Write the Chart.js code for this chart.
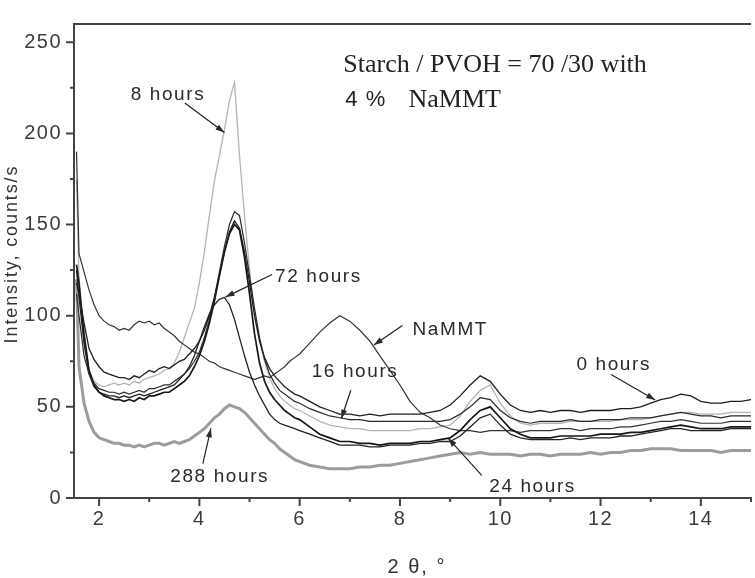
<!doctype html>
<html lang="en">
<head>
<meta charset="utf-8">
<title>Starch / PVOH = 70/30 with 4 % NaMMT</title>
<style>
  * { margin: 0; padding: 0; }
  html, body { width: 755px; height: 578px; overflow: hidden; background: #fff; }
</style>
</head>
<body>
<canvas id="myChart" width="760" height="578"></canvas>
<script src="https://cdn.jsdelivr.net/npm/chart.js"></script>
<script>
// 2 theta grid, degrees
const twoTheta = [1.55, 1.6, 1.7, 1.8, 1.9, 2.0,
  2.1, 2.2, 2.3, 2.4, 2.5, 2.6, 2.7, 2.8, 2.9, 3.0,
  3.1, 3.2, 3.3, 3.4, 3.5, 3.6, 3.7, 3.8, 3.9, 4.0,
  4.1, 4.2, 4.3, 4.4, 4.5, 4.6, 4.7, 4.8, 4.9, 5.0,
  5.1, 5.2, 5.3, 5.4, 5.5, 5.6, 5.7, 5.8, 5.9, 6.0,
  6.2, 6.4, 6.6, 6.8, 7.0, 7.2, 7.4, 7.6, 7.8, 8.0,
  8.2, 8.4, 8.6, 8.8, 9.0, 9.2, 9.4, 9.6, 9.8, 10.0,
  10.2, 10.4, 10.6, 10.8, 11.0, 11.2, 11.4, 11.6, 11.8, 12.0,
  12.2, 12.4, 12.6, 12.8, 13.0, 13.2, 13.4, 13.6, 13.8, 14.0,
  14.2, 14.4, 14.6, 14.8, 15.0];

// intensities, counts/s
const hours0 = [118, 112, 96, 82, 76, 72,
  69, 68, 67, 66, 66, 65, 67, 66, 68, 70,
  69, 71, 72, 71, 73, 75, 76, 79, 82, 86,
  92, 100, 110, 122, 135, 146, 152, 148, 135, 118,
  100, 86, 77, 71, 67, 64, 61, 59, 57, 56,
  53, 50, 48, 46, 46, 45, 46, 45, 46, 46,
  46, 46, 47, 48, 51, 56, 62, 67, 64, 57,
  51, 48, 47, 48, 47, 48, 48, 47, 48, 48,
  48, 49, 49, 50, 52, 54, 55, 57, 56, 53,
  52, 52, 53, 53, 54];
const hours8 = [175, 120, 85, 70, 64, 62,
  61, 62, 63, 62, 63, 62, 64, 63, 65, 66,
  67, 68, 70, 71, 74, 80, 88, 96, 104, 118,
  135, 155, 174, 188, 202, 218, 228, 188, 155, 125,
  100, 86, 75, 66, 60, 56, 53, 51, 49, 48,
  45, 42, 40, 39, 38, 38, 37, 37, 37, 37,
  37, 38, 38, 39, 40, 45, 53, 59, 62, 52,
  45, 41, 40, 41, 41, 41, 42, 42, 42, 42,
  42, 43, 43, 43, 44, 45, 46, 47, 47, 46,
  46, 46, 47, 47, 47];
const hours16 = [112, 100, 78, 68, 63, 60,
  59, 58, 58, 57, 58, 57, 58, 59, 58, 60,
  60, 61, 62, 62, 64, 66, 68, 71, 75, 80,
  88, 98, 110, 124, 138, 150, 157, 155, 140, 122,
  104, 88, 76, 68, 63, 59, 57, 55, 53, 52,
  49, 47, 45, 44, 43, 43, 42, 42, 42, 42,
  42, 42, 42, 42, 43, 46, 50, 55, 54, 48,
  44, 42, 41, 42, 42, 42, 43, 42, 42, 43,
  43, 43, 44, 44, 44, 45, 46, 47, 46, 45,
  45, 44, 45, 45, 45];
const hours24 = [128, 118, 90, 70, 62, 58,
  56, 55, 54, 54, 53, 54, 53, 55, 54, 56,
  56, 57, 58, 58, 60, 62, 64, 67, 72, 78,
  86, 96, 108, 122, 135, 145, 150, 147, 132, 112,
  90, 74, 64, 58, 54, 51, 48, 46, 44, 43,
  39, 35, 33, 31, 31, 30, 30, 29, 30, 30,
  30, 31, 31, 32, 33, 37, 43, 48, 50, 44,
  38, 35, 33, 33, 33, 34, 34, 34, 34, 35,
  35, 35, 36, 36, 37, 38, 39, 40, 39, 38,
  38, 38, 39, 39, 39];
const hours72 = [125, 110, 85, 68, 61, 58,
  57, 56, 56, 55, 56, 55, 56, 57, 56, 57,
  58, 59, 60, 61, 62, 65, 68, 72, 78, 86,
  94, 101, 106, 109, 110, 106, 98, 88, 78, 69,
  62, 56, 51, 46, 43, 41, 40, 39, 38, 37,
  35, 33, 31, 29, 29, 29, 28, 28, 29, 29,
  29, 30, 30, 31, 31, 34, 39, 44, 46, 40,
  35, 33, 32, 32, 32, 32, 33, 32, 33, 33,
  33, 34, 34, 35, 36, 37, 38, 38, 37, 37,
  37, 37, 38, 38, 38];
const hours288 = [120, 72, 52, 42, 36, 33,
  32, 31, 30, 30, 29, 29, 28, 29, 28, 29,
  30, 30, 29, 30, 31, 30, 31, 32, 34, 36,
  38, 41, 44, 46, 49, 51, 50, 49, 47, 44,
  41, 38, 35, 32, 30, 27, 25, 23, 21, 20,
  18, 17, 16, 16, 16, 17, 17, 18, 18, 19,
  20, 21, 22, 23, 24, 25, 24, 25, 24, 24,
  24, 23, 24, 24, 23, 24, 24, 24, 25, 24,
  25, 25, 26, 26, 27, 27, 27, 26, 26, 26,
  26, 25, 26, 26, 26];
const naMMT = [190, 134, 124, 114, 106, 100,
  97, 95, 94, 92, 93, 92, 95, 97, 96, 97,
  95, 96, 93, 91, 89, 86, 84, 82, 80, 79,
  77, 75, 74, 72, 71, 70, 69, 68, 67, 66,
  65, 66, 67, 66, 68, 70, 72, 75, 77, 79,
  85, 91, 96, 100, 97, 92, 86, 78, 70, 62,
  53, 47, 44, 40, 38, 37, 37, 36, 37, 37,
  37, 36, 37, 37, 37, 38, 38, 37, 38, 38,
  38, 39, 39, 40, 41, 42, 42, 43, 42, 41,
  41, 41, 42, 42, 42];

const xTicks = [2, 3, 4, 5, 6, 7, 8, 9, 10, 11, 12, 13, 14, 15];
const yTicks = [0, 25, 50, 75, 100, 125, 150, 175, 200, 225, 250];

// curve labels: text anchor and arrow, in data units
const notes = [
  { text: '8 hours', at: [2.63, 218.3], from: [3.71, 216.7], to: [4.50, 200.5] },
  { text: '72 hours', at: [5.51, 118.3], from: [5.45, 122.6], to: [4.52, 110.2] },
  { text: 'NaMMT', at: [8.25, 89.2], from: [8.05, 94.6], to: [7.48, 83.9] },
  { text: '16 hours', at: [6.24, 66.1], from: [7.02, 59.1], to: [6.83, 43.5] },
  { text: '0 hours', at: [11.52, 70.4], from: [12.21, 67.7], to: [13.09, 53.8] },
  { text: '24 hours', at: [9.78, 3.2], from: [9.63, 12.4], to: [8.96, 32.8] },
  { text: '288 hours', at: [3.42, 8.6], from: [4.07, 18.8], to: [4.23, 38.2] }
];

const toXY = ys => twoTheta.map((t, i) => ({ x: t, y: ys[i] }));

const series = [
  { label: '0 hours', data: hours0, color: '#1e1e1e', width: 1.3 },
  { label: '16 hours', data: hours16, color: '#2a2a2a', width: 1.2 },
  { label: '24 hours', data: hours24, color: '#161616', width: 1.7 },
  { label: '72 hours', data: hours72, color: '#222', width: 1.3 },
  { label: 'NaMMT', data: naMMT, color: '#333', width: 1.2 },
  { label: '8 hours', data: hours8, color: '#b4b4b4', width: 1.3 },
  { label: '288 hours', data: hours288, color: '#9c9c9c', width: 3 }
];

const decor = {
  id: 'decor',
  beforeDraw(chart) {
    chart.ctx.letterSpacing = '1.5px';
  },
  afterDraw(chart) {
    const { ctx, chartArea: a, scales: { x, y } } = chart;
    const px = p => [x.getPixelForValue(p[0]), y.getPixelForValue(p[1])];
    ctx.save();
    ctx.letterSpacing = '0px';
    ctx.strokeStyle = '#444';
    ctx.lineWidth = 2;
    ctx.beginPath();
    ctx.moveTo(a.left - 1, a.top);
    ctx.lineTo(a.right, a.top);
    xTicks.forEach(v => {
      const p = x.getPixelForValue(v);
      ctx.moveTo(p, a.bottom);
      ctx.lineTo(p, a.bottom + (v % 2 === 0 ? 8 : 4));
    });
    yTicks.forEach(v => {
      const p = y.getPixelForValue(v);
      ctx.moveTo(a.left, p);
      ctx.lineTo(a.left - (v % 50 === 0 ? 8 : 4), p);
    });
    ctx.stroke();

    // axis titles
    ctx.fillStyle = '#333';
    ctx.font = '18px "Liberation Sans", Arial, sans-serif';
    ctx.letterSpacing = '1.9px';
    ctx.textAlign = 'center';
    ctx.textBaseline = 'middle';
    ctx.save();
    ctx.translate(12, 254);
    ctx.rotate(-Math.PI / 2);
    ctx.fillText('Intensity, counts/s', 0, 0);
    ctx.restore();
    ctx.font = '20px "Liberation Sans", Arial, sans-serif';
    ctx.letterSpacing = '2px';
    ctx.fillText('2 θ, °', 417, 567);

    // curve labels with arrows
    ctx.textAlign = 'left';
    ctx.textBaseline = 'alphabetic';
    ctx.font = '19px "Liberation Sans", Arial, sans-serif';
    ctx.letterSpacing = '1.6px';
    ctx.strokeStyle = '#222';
    ctx.fillStyle = '#2a2a2a';
    ctx.lineWidth = 1.2;
    notes.forEach(n => {
      const [tx, ty] = px(n.at);
      ctx.fillText(n.text, tx, ty);
      const [x0, y0] = px(n.from);
      const [x1, y1] = px(n.to);
      ctx.beginPath();
      ctx.moveTo(x0, y0);
      ctx.lineTo(x1, y1);
      ctx.stroke();
      const ang = Math.atan2(y1 - y0, x1 - x0);
      ctx.beginPath();
      ctx.moveTo(x1, y1);
      ctx.lineTo(x1 - 9 * Math.cos(ang) + 3 * Math.sin(ang), y1 - 9 * Math.sin(ang) - 3 * Math.cos(ang));
      ctx.lineTo(x1 - 9 * Math.cos(ang) - 3 * Math.sin(ang), y1 - 9 * Math.sin(ang) + 3 * Math.cos(ang));
      ctx.closePath();
      ctx.fill();
    });

    // sample description
    ctx.letterSpacing = '0px';
    ctx.fillStyle = '#222';
    ctx.font = '26px "Liberation Serif", "Times New Roman", serif';
    let [sx, sy] = px([6.87, 233.9]);
    ctx.fillText('Starch / PVOH = 70 /30 with', sx, sy);
    [sx, sy] = px([8.17, 214.5]);
    ctx.fillText('NaMMT', sx, sy);
    ctx.font = '22px "Liberation Sans", Arial, sans-serif';
    ctx.letterSpacing = '1px';
    [sx, sy] = px([6.91, 215]);
    ctx.fillText('4 %', sx, sy);
    ctx.restore();
  }
};

const config = {
  type: 'line',
  data: {
    datasets: series.map(s => ({
      label: s.label,
      data: toXY(s.data),
      borderColor: s.color,
      borderWidth: s.width,
      pointRadius: 0,
      tension: 0,
      fill: false
    }))
  },
  options: {
    responsive: false,
    animation: false,
    layout: { padding: { top: 15, left: 0, right: 0, bottom: 0 } },
    plugins: { legend: { display: false }, tooltip: { enabled: false } },
    scales: {
      x: {
        type: 'linear',
        min: 1.5,
        max: 15,
        afterBuildTicks: s => { s.ticks = xTicks.map(v => ({ value: v })); },
        afterFit: s => { s.height = 80; },
        grid: { display: false, drawTicks: false },
        border: { display: true, color: '#444', width: 2 },
        ticks: {
          padding: 9,
          color: '#3c3c3c',
          maxRotation: 0,
          autoSkip: false,
          font: { family: '"Liberation Sans", Arial, sans-serif', size: 20 },
          callback: v => (v % 2 === 0 ? v : '')
        }
      },
      y: {
        min: 0,
        max: 260,
        afterBuildTicks: s => { s.ticks = yTicks.map(v => ({ value: v })); },
        afterFit: s => { s.width = 74; },
        grid: { display: false, drawTicks: false },
        border: { display: true, color: '#444', width: 2 },
        ticks: {
          padding: 12,
          color: '#3c3c3c',
          autoSkip: false,
          font: { family: '"Liberation Sans", Arial, sans-serif', size: 20 },
          callback: v => (v % 50 === 0 ? v : '')
        }
      }
    }
  },
  plugins: [decor]
};

const myChart = new Chart(document.getElementById('myChart'), config);
</script>
</body>
</html>
